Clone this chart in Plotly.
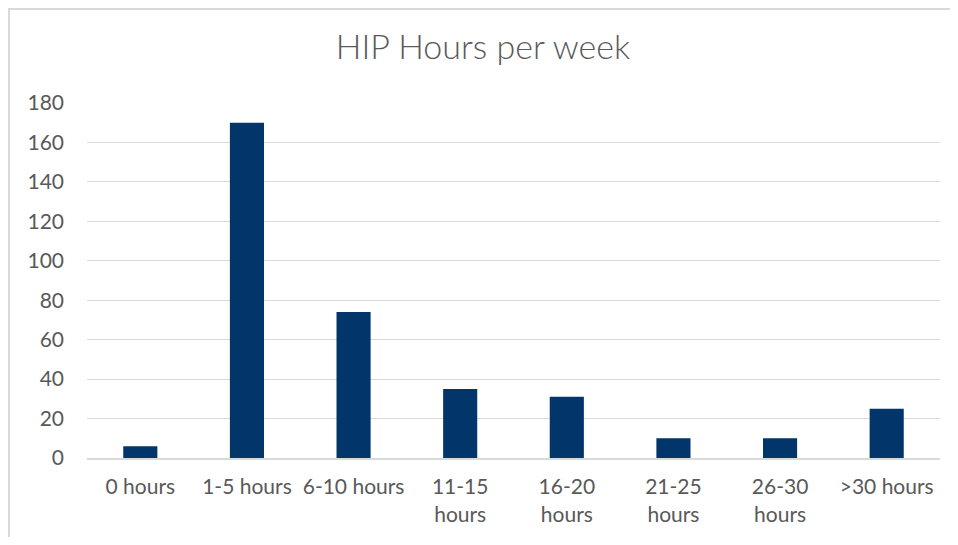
import plotly.graph_objects as go

# HIP hours per week, survey counts
categories = ["0 hours", "1-5 hours", "6-10 hours", "11-15<br>hours", "16-20<br>hours",
              "21-25<br>hours", "26-30<br>hours", ">30 hours"]
counts = [6, 170, 74, 35, 31, 10, 10, 25]
y_ticks = [0, 20, 40, 60, 80, 100, 120, 140, 160, 180]

bar_color = "#02366a"
text_color = "#595959"
grid_color = "#d9d9d9"

# page body has an 8px margin on every side, keep the figure inside the window
W, H = 950, 529
ml, mr, mt, mb = 79, 18, 95, 79
pw, ph = W - ml - mr, H - mt - mb

fig = go.Figure()
fig.add_trace(go.Bar(
    x=categories,
    y=counts,
    marker=dict(color=bar_color, line=dict(width=0)),
    width=0.32,
    hoverinfo="x+y",
))

fig.update_layout(
    width=W,
    height=H,
    margin=dict(l=ml, r=mr, t=mt, b=mb),
    paper_bgcolor="white",
    plot_bgcolor="white",
    showlegend=False,
    title=dict(
        text="HIP Hours per week",
        x=0.5, xanchor="center",
        y=1 - 39 / H, yanchor="middle",
        font=dict(family="Lato", size=34, color=text_color, weight=300),
    ),
    font=dict(family="Lato", size=21, color=text_color),
    xaxis=dict(
        tickangle=0,
        showgrid=False,
        showline=True,
        linecolor=grid_color,
        linewidth=2,
        ticks="",
        ticklabelstandoff=9,
    ),
    yaxis=dict(
        range=[0, 180],
        tickvals=y_ticks,
        showgrid=True,
        gridcolor=grid_color,
        gridwidth=1,
        zeroline=False,
        showline=False,
        ticks="",
        ticklabelstandoff=22,
    ),
    # outer chart border (left and top visible in the picture)
    shapes=[
        dict(type="line", xref="paper", yref="paper",
             x0=(1 - ml) / pw, x1=(1 - ml) / pw, y0=-mb / ph, y1=(ph + mt) / ph,
             line=dict(color=grid_color, width=2), layer="below"),
        dict(type="line", xref="paper", yref="paper",
             x0=(1 - ml) / pw, x1=(W - ml) / pw, y0=(ph + mt - 1) / ph, y1=(ph + mt - 1) / ph,
             line=dict(color=grid_color, width=2), layer="below"),
    ],
)

fig.write_html("out.html")
